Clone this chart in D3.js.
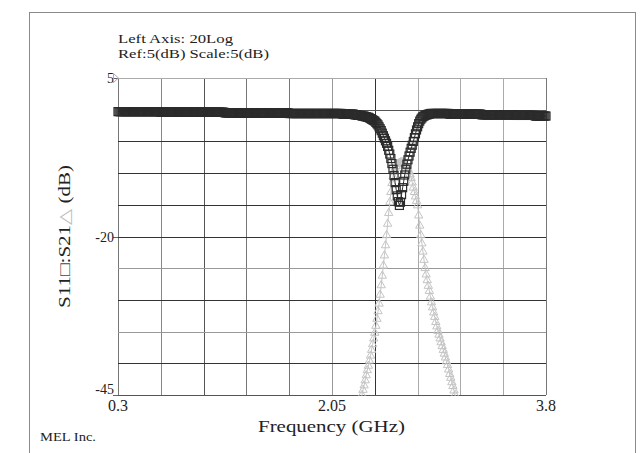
<!DOCTYPE html>
<html>
<head>
<meta charset="utf-8">
<script src="https://cdn.jsdelivr.net/npm/d3@7"></script>
<style>
body { margin: 0; background: #fff; }
text { font-family: "Liberation Serif", "DejaVu Serif", serif; fill: #222; }
</style>
</head>
<body>
<script>
// sweep settings of the analyser
const sweepStart = 0.3, sweepStop = 3.8, sweepPoints = 401

// grid and labels
const xGrid = [0.3, 0.65, 1.0, 1.35, 1.7, 2.05, 2.4, 2.75, 3.1, 3.45, 3.8]
const yGrid = [5, 0, -5, -10, -15, -20, -25, -30, -35, -40, -45]
const xLabels = ["0.3", "2.05", "3.8"]
const yLabels = [5, -20, -45]

// S11 (dB), one value per sweep point
const s11 = [
	-0.3,-0.3,-0.3,-0.3,-0.3,-0.3,-0.3,-0.3,-0.3,-0.3,-0.3,-0.3,-0.3,-0.3,-0.3,-0.3,-0.3,-0.3,-0.3,-0.3,
	-0.3,-0.3,-0.3,-0.3,-0.3,-0.3,-0.3,-0.3,-0.3,-0.3,-0.3,-0.3,-0.3,-0.3,-0.3,-0.3,-0.3,-0.3,-0.3,-0.3,
	-0.4,-0.4,-0.4,-0.4,-0.4,-0.4,-0.4,-0.4,-0.4,-0.4,-0.4,-0.4,-0.4,-0.4,-0.4,-0.4,-0.4,-0.4,-0.4,-0.4,
	-0.4,-0.4,-0.4,-0.4,-0.4,-0.4,-0.4,-0.4,-0.4,-0.4,-0.4,-0.4,-0.4,-0.4,-0.4,-0.4,-0.4,-0.4,-0.4,-0.4,
	-0.4,-0.4,-0.4,-0.4,-0.4,-0.4,-0.4,-0.4,-0.4,-0.4,-0.4,-0.4,-0.4,-0.4,-0.4,-0.4,-0.4,-0.4,-0.4,-0.4,
	-0.5,-0.5,-0.5,-0.5,-0.5,-0.5,-0.5,-0.5,-0.5,-0.5,-0.5,-0.5,-0.5,-0.5,-0.5,-0.5,-0.5,-0.5,-0.5,-0.5,
	-0.5,-0.5,-0.5,-0.5,-0.5,-0.5,-0.5,-0.5,-0.5,-0.5,-0.5,-0.5,-0.5,-0.5,-0.5,-0.5,-0.5,-0.5,-0.5,-0.5,
	-0.5,-0.5,-0.5,-0.5,-0.5,-0.5,-0.5,-0.5,-0.5,-0.5,-0.5,-0.5,-0.5,-0.5,-0.5,-0.5,-0.5,-0.5,-0.5,-0.5,
	-0.6,-0.6,-0.6,-0.6,-0.6,-0.6,-0.6,-0.6,-0.6,-0.6,-0.6,-0.6,-0.6,-0.6,-0.6,-0.6,-0.6,-0.6,-0.6,-0.6,
	-0.6,-0.6,-0.6,-0.6,-0.6,-0.6,-0.6,-0.6,-0.6,-0.6,-0.6,-0.6,-0.6,-0.6,-0.6,-0.6,-0.6,-0.6,-0.6,-0.6,
	-0.6,-0.6,-0.6,-0.6,-0.6,-0.6,-0.6,-0.6,-0.6,-0.6,-0.7,-0.7,-0.7,-0.7,-0.7,-0.7,-0.7,-0.7,-0.7,-0.7,
	-0.7,-0.8,-0.8,-0.8,-0.9,-0.9,-0.9,-0.9,-1.0,-1.0,-1.0,-1.1,-1.1,-1.2,-1.2,-1.3,-1.4,-1.5,-1.6,-1.7,
	-1.8,-2.0,-2.2,-2.4,-2.7,-3.0,-3.3,-3.7,-4.1,-4.5,-4.9,-5.3,-5.8,-6.4,-7.0,-7.7,-8.5,-9.4,-10.4,-11.5,
	-12.6,-13.6,-14.5,-15.1,-14.6,-13.4,-12.3,-11.3,-10.3,-9.4,-8.6,-7.9,-7.3,-6.7,-6.1,-5.6,-5.0,-4.4,-3.8,-3.2,
	-2.7,-2.2,-1.8,-1.5,-1.3,-1.1,-1.0,-0.9,-0.8,-0.8,-0.7,-0.7,-0.6,-0.6,-0.6,-0.6,-0.6,-0.6,-0.6,-0.6,
	-0.6,-0.6,-0.6,-0.6,-0.6,-0.6,-0.6,-0.6,-0.6,-0.6,-0.7,-0.7,-0.7,-0.7,-0.7,-0.7,-0.7,-0.7,-0.7,-0.7,
	-0.7,-0.7,-0.7,-0.7,-0.7,-0.7,-0.7,-0.7,-0.7,-0.7,-0.7,-0.7,-0.7,-0.7,-0.7,-0.7,-0.7,-0.7,-0.7,-0.7,
	-0.8,-0.8,-0.8,-0.8,-0.8,-0.8,-0.8,-0.8,-0.8,-0.8,-0.8,-0.8,-0.8,-0.8,-0.8,-0.8,-0.8,-0.8,-0.8,-0.8,
	-0.8,-0.8,-0.8,-0.8,-0.8,-0.8,-0.8,-0.8,-0.8,-0.8,-0.9,-0.9,-0.9,-0.9,-0.9,-0.9,-0.9,-0.9,-0.9,-0.9,
	-0.9,-0.9,-0.9,-0.9,-0.9,-0.9,-0.9,-0.9,-0.9,-0.9,-1.0,-1.0,-1.0,-1.0,-1.0,-1.0,-1.0,-1.0,-1.0,-1.0,
	-1.0
]

// S21 (dB), only the sweep points around the passband (starting at point s21First)
const s21First = 226
const s21 = [
	-48.0,-46.5,-45.0,-44.2,-43.5,-42.7,-41.9,-41.1,-40.4,-39.6,
	-38.8,-37.9,-37.0,-36.1,-35.2,-34.1,-33.0,-31.8,-30.6,-29.2,
	-27.7,-26.2,-24.6,-23.0,-21.4,-19.8,-18.0,-16.3,-14.6,-13.0,
	-11.6,-10.5,-9.8,-9.2,-8.9,-8.6,-8.5,-8.4,-8.3,-8.3,
	-8.3,-8.4,-8.5,-8.7,-9.0,-9.3,-9.7,-10.2,-10.8,-11.5,
	-12.3,-13.0,-13.7,-14.4,-15.1,-16.7,-18.3,-19.8,-21.1,-22.4,
	-23.7,-25.0,-26.0,-26.9,-27.8,-28.6,-29.5,-30.4,-31.2,-32.0,
	-32.7,-33.5,-34.2,-34.9,-35.5,-36.1,-36.7,-37.3,-37.9,-38.5,
	-39.1,-39.7,-40.3,-41.0,-41.7,-42.3,-43.0,-43.6,-44.3,-45.0,
	-45.7,-46.5
]

const freqAt = i => sweepStart + i * (sweepStop - sweepStart) / (sweepPoints - 1)

const s11Data = s11.map((v, i) => ({ f: freqAt(i), v: v }))
const s21Data = s21.map((v, i) => ({ f: freqAt(s21First + i), v: v }))

const svg = d3.select("body").append("svg")
	.attr("width", 643)
	.attr("height", 453)

let xScale = d3.scaleLinear().domain([sweepStart, sweepStop]).range([118, 546])
let yScale = d3.scaleLinear().domain([-45, 5]).range([395, 78])

// outer frame
svg.append("rect")
	.attr("x", 29.5).attr("y", 12.5)
	.attr("width", 606).attr("height", 460)
	.attr("fill", "none").attr("stroke", "#8a8a8a")

// header text (stretched to the widths of the original)
svg.append("text").attr("x", 118).attr("y", 43).style("font-size", "13px")
	.attr("textLength", 115).attr("lengthAdjust", "spacingAndGlyphs")
	.text("Left Axis: 20Log")
svg.append("text").attr("x", 118).attr("y", 58).style("font-size", "13px")
	.attr("textLength", 151).attr("lengthAdjust", "spacingAndGlyphs")
	.text("Ref:5(dB) Scale:5(dB)")

// grid (shades copy the uneven look of the original print)
const vShade = ["#777", "#888", "#555", "#777", "#777", "#999", "#333", "#aaa", "#aaa", "#aaa", "#777"]
const hShade = ["#aaa", "#555", "#333", "#333", "#333", "#333", "#999", "#333", "#999", "#333", "#555"]

const grid = svg.append("g").attr("shape-rendering", "crispEdges")
grid.selectAll(".vline").data(xGrid).join("line")
	.attr("class", "vline")
	.attr("x1", d => Math.round(xScale(d)) + 0.5).attr("x2", d => Math.round(xScale(d)) + 0.5)
	.attr("y1", yScale(5)).attr("y2", yScale(-45))
	.attr("stroke", (d, i) => vShade[i])
grid.selectAll(".hline").data(yGrid).join("line")
	.attr("class", "hline")
	.attr("y1", d => Math.round(yScale(d)) + 0.5).attr("y2", d => Math.round(yScale(d)) + 0.5)
	.attr("x1", xScale(sweepStart)).attr("x2", xScale(sweepStop))
	.attr("stroke", (d, i) => hShade[i])

// y tick marks + labels
grid.selectAll(".ytick").data(yLabels).join("line")
	.attr("class", "ytick")
	.attr("x1", 113).attr("x2", 118)
	.attr("y1", d => Math.round(yScale(d)) + 0.5).attr("y2", d => Math.round(yScale(d)) + 0.5)
	.attr("stroke", "#666")

svg.selectAll(".ylab").data(yLabels).join("text")
	.attr("class", "ylab")
	.attr("x", 114)
	.attr("y", (d, i) => i == yLabels.length - 1 ? yScale(d) - 1 : yScale(d) + 5)
	.attr("text-anchor", "end")
	.style("font-size", "14px")
	.text(d => d)

// reference marker next to "5"
svg.append("path")
	.attr("d", "M113.5,73.5 L118.5,78 L113.5,82.5 Z")
	.attr("fill", "none").attr("stroke", "#aaa")

svg.selectAll(".xlab").data(xLabels).join("text")
	.attr("class", "xlab")
	.attr("x", d => xScale(+d))
	.attr("y", 411)
	.attr("text-anchor", "middle")
	.style("font-size", "16px")
	.text(d => d)

svg.append("text")
	.attr("x", 258).attr("y", 432)
	.style("font-size", "17px")
	.attr("textLength", 147).attr("lengthAdjust", "spacingAndGlyphs")
	.text("Frequency (GHz)")

let yTitle = svg.append("text")
	.attr("transform", "translate(70,308) rotate(-90)")
	.style("font-size", "16px")
	.attr("textLength", 143).attr("lengthAdjust", "spacingAndGlyphs")
yTitle.append("tspan").text("S11")
yTitle.append("tspan").text("\u25A1").style("fill", "#444")
yTitle.append("tspan").text(":S21")
yTitle.append("tspan").text("\u25B3").style("fill", "#bbb")
yTitle.append("tspan").text(" (dB)")

svg.append("text").attr("x", 40).attr("y", 441).style("font-size", "12px")
	.attr("textLength", 56).attr("lengthAdjust", "spacingAndGlyphs")
	.text("MEL Inc.")

// plot area clip
svg.append("clipPath").attr("id", "plotClip")
	.append("rect").attr("x", 110).attr("y", 70).attr("width", 445).attr("height", 326)

const plot = svg.append("g").attr("clip-path", "url(#plotClip)")

const line = d3.line().x(d => xScale(d.f)).y(d => yScale(d.v))

// S21 (light grey triangles)
const s21Color = "#c4c4c4"
plot.append("path").datum(s21Data)
	.attr("d", line).attr("fill", "none").attr("stroke", s21Color)
plot.selectAll(".tri").data(s21Data.filter(d => d.v >= -45)).join("path")
	.attr("class", "tri")
	.attr("d", d3.symbol(d3.symbolTriangle, 30))
	.attr("transform", d => "translate(" + xScale(d.f) + "," + yScale(d.v) + ")")
	.attr("fill", "none").attr("stroke", s21Color)

// S11 (dark squares)
const s11Color = "#2b2b2b"
plot.append("path").datum(s11Data)
	.attr("d", line).attr("fill", "none").attr("stroke", s11Color)
plot.selectAll(".sq").data(s11Data).join("rect")
	.attr("class", "sq")
	.attr("x", d => xScale(d.f) - 4).attr("y", d => yScale(d.v) - 4)
	.attr("width", 8).attr("height", 8)
	.attr("fill", "none").attr("stroke", s11Color).attr("stroke-width", 1.2)
</script>
</body>
</html>
